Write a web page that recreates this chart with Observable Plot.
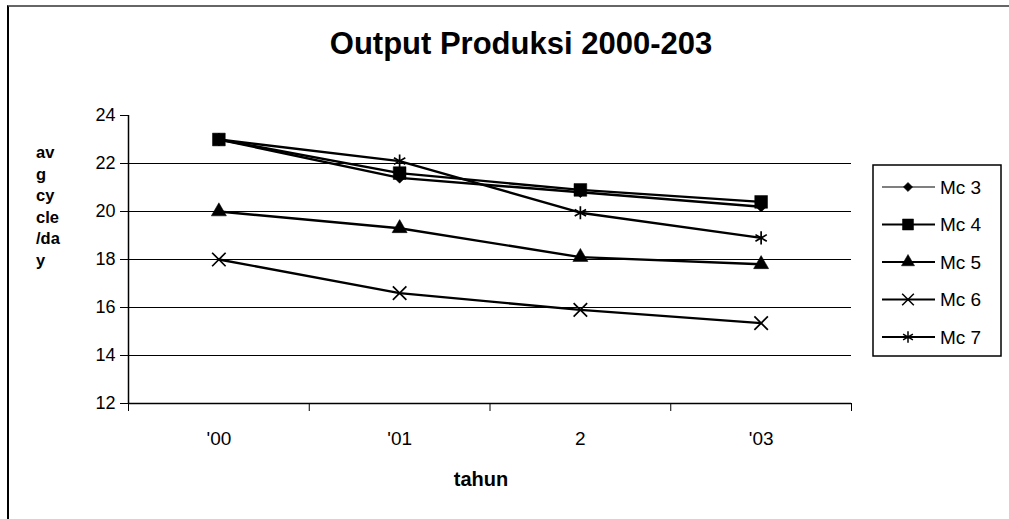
<!DOCTYPE html>
<html>
<head>
<meta charset="utf-8">
<script src="https://cdn.jsdelivr.net/npm/d3@7"></script>
<script src="https://cdn.jsdelivr.net/npm/@observablehq/plot@0.6"></script>
<style>
  html, body { margin: 0; padding: 0; background: #fff; overflow: hidden; }
  #wrap { position: relative; width: 1009px; height: 519px; overflow: hidden; font-family: "Liberation Sans", Arial, sans-serif; }
  #wrap svg { position: absolute; left: 0; top: 0; }
  #border { position: absolute; left: 7px; top: 5px; width: 1100px; height: 600px; border-left: 2px solid #000; border-top: 2px solid #666; }
  .title { position: absolute; left: 0; width: 1042px; top: 26px; text-align: center; font-weight: bold; font-size: 31px; line-height: 36px; }
  .ylab { position: absolute; left: 36px; top: 142px; font-weight: bold; font-size: 16.5px; line-height: 21.6px; }
  .xlab { position: absolute; left: 381px; width: 200px; top: 467px; text-align: center; font-weight: bold; font-size: 20px; line-height: 24px; }
</style>
</head>
<body>
<div id="wrap">
  <div id="border"></div>
</div>
<script>
// ---- data ----
const titleText = "Output Produksi 2000-203";
const yLabelLines = ["av", "g", "cy", "cle", "/da", "y"];
const xLabelText = "tahun";
const categories = ["'00", "'01", "2", "'03"];
const seriesNames = ["Mc 3", "Mc 4", "Mc 5", "Mc 6", "Mc 7"];
const mc3 = [23.0, 21.4, 20.8, 20.2];
const mc4 = [23.0, 21.6, 20.9, 20.4];
const mc5 = [20.0, 19.3, 18.1, 17.8];
const mc6 = [18.0, 16.6, 15.9, 15.35];
const mc7 = [23.0, 22.1, 19.95, 18.9];
const yTicks = [12, 14, 16, 18, 20, 22, 24];
const gridValues = [14, 16, 18, 20, 22];

// ---- styles per series ----
const seriesValues = [mc3, mc4, mc5, mc6, mc7];
const seriesStyle = [
  {symbol: "diamond2", filled: true, r: 4.8, lw: 1.2},
  {symbol: "square", filled: true, r: 7.2, lw: 2},
  {symbol: "triangle", filled: true, r: 5.6, lw: 2},
  {symbol: "times", filled: false, r: 6.2, lw: 2},
  {symbol: "asterisk", filled: false, r: 6.2, lw: 2}
];

const data = [];
seriesNames.forEach((s, k) => seriesValues[k].forEach((v, i) => data.push({series: s, i, v})));

const boundaries = d3.range(categories.length + 1).map(i => i - 0.5);

const marks = [
  Plot.ruleY(gridValues, {stroke: "#000", strokeWidth: 1.2}),
  Plot.ruleY([yTicks[0]], {stroke: "#000", strokeWidth: 1.5}),
  Plot.ruleX([boundaries[0]], {y1: yTicks[0], y2: yTicks[yTicks.length - 1], stroke: "#000", strokeWidth: 1.5}),
  Plot.text(categories, {x: (d, i) => i, y: yTicks[0], text: d => d, dy: 35, fontSize: 19, fill: "#000"}),
  Plot.line(data, {x: "i", y: "v", z: "series", stroke: "#000", strokeWidth: 2.4})
];
seriesNames.forEach((s, k) => {
  const st = seriesStyle[k];
  marks.push(Plot.dot(data.filter(d => d.series === s), {
    x: "i", y: "v", symbol: () => st.symbol, r: st.r,
    fill: st.filled ? "#000" : "none",
    stroke: "#000", strokeWidth: st.filled ? 0.5 : 1.7
  }));
});

const chart = Plot.plot({
  width: 1009,
  height: 519,
  marginLeft: 128,
  marginRight: 158,
  marginTop: 115,
  marginBottom: 116,
  style: {background: "transparent", fontFamily: "'Liberation Sans', Arial, sans-serif", fontSize: "18px", color: "#000", overflow: "visible"},
  x: {domain: [boundaries[0], boundaries[boundaries.length - 1]], ticks: boundaries, tickFormat: () => "", tickSize: 8, label: null},
  y: {domain: [yTicks[0], yTicks[yTicks.length - 1]], ticks: yTicks, tickSize: 8, tickPadding: 5, label: null},
  symbol: {type: "identity"},
  marks
});
const wrap = document.getElementById("wrap");
wrap.appendChild(chart);

// title & labels
const t = document.createElement("div"); t.className = "title"; t.textContent = titleText; wrap.appendChild(t);
const yl = document.createElement("div"); yl.className = "ylab"; yl.innerHTML = yLabelLines.join("<br>"); wrap.appendChild(yl);
const xl = document.createElement("div"); xl.className = "xlab"; xl.textContent = xLabelText; wrap.appendChild(xl);

// legend
const lg = d3.create("svg").attr("width", 1009).attr("height", 519).style("position", "absolute").style("left", 0).style("top", 0);
lg.append("rect").attr("x", 873).attr("y", 165).attr("width", 128).attr("height", 191).attr("fill", "#fff").attr("stroke", "#000").attr("stroke-width", 1.5);
const symMap = {diamond2: d3.symbolDiamond2, square: d3.symbolSquare, triangle: d3.symbolTriangle, times: d3.symbolTimes, asterisk: d3.symbolAsterisk};
seriesNames.forEach((s, k) => {
  const st = seriesStyle[k];
  const cy = 187 + k * 37.5;
  const g = lg.append("g");
  g.append("line").attr("x1", 882).attr("x2", 935).attr("y1", cy).attr("y2", cy).attr("stroke", "#000").attr("stroke-width", st.lw);
  g.append("path").attr("transform", `translate(908,${cy})`)
    .attr("d", d3.symbol(symMap[st.symbol], Math.PI * st.r * st.r * 0.75)())
    .attr("fill", st.filled ? "#000" : "none").attr("stroke", "#000").attr("stroke-width", st.filled ? 0.5 : 1.5);
  g.append("text").attr("x", 940).attr("y", cy).attr("dy", "0.36em").attr("font-size", 19)
    .attr("font-family", "'Liberation Sans', Arial, sans-serif").text(s);
});
wrap.appendChild(lg.node());
</script>
</body>
</html>
